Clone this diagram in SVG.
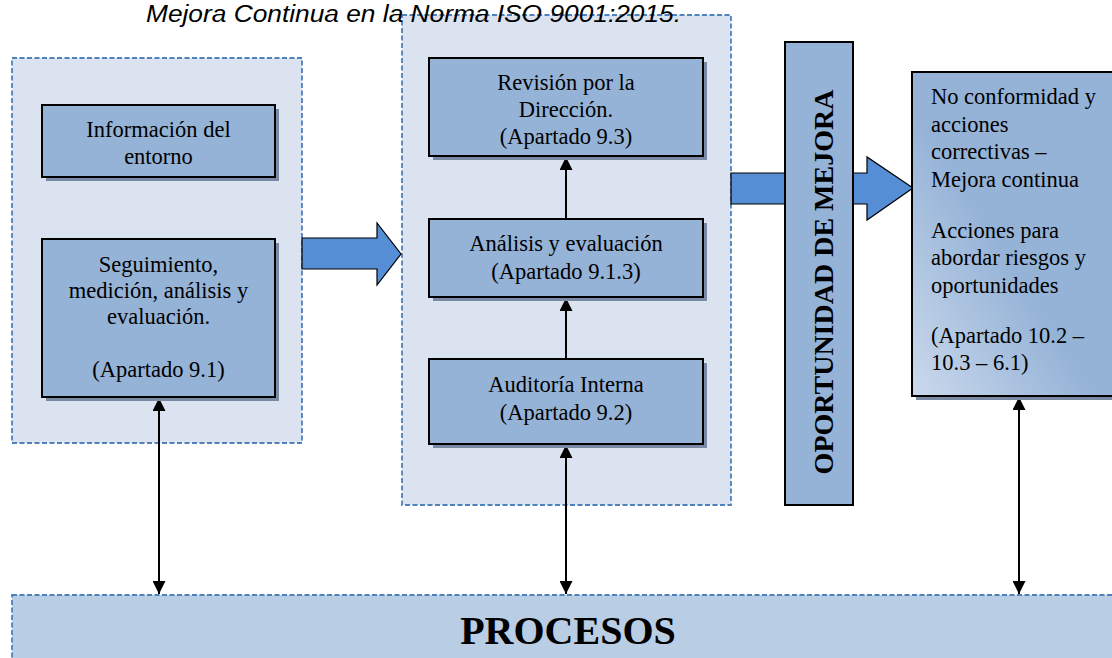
<svg xmlns="http://www.w3.org/2000/svg" width="1112" height="658" viewBox="0 0 1112 658">
  <style>
    .group-area { fill: #dce3f0; stroke: #4f81bd; stroke-width: 1.8; stroke-dasharray: 5 2.5; }
    .box { fill: #95b3d7; stroke: #000; stroke-width: 2; }
    .shadow { fill: #7b8aa4; }
    .label { font-family: "Liberation Serif", "Times New Roman", serif; font-size: 22.5px; fill: #000; }
    .center { text-anchor: middle; }
    .link { stroke: #000; stroke-width: 2; fill: none; }
    .block-arrow { fill: #558ed5; stroke: #000; stroke-width: 1.2; }
  </style>
  <defs>
    <marker id="head" viewBox="0 0 10 10" refX="10" refY="5" markerWidth="6.5" markerHeight="6.5" orient="auto-start-reverse" markerUnits="strokeWidth">
      <path d="M0,0 L10,5 L0,10 z" fill="#000"/>
    </marker>
    <linearGradient id="sideFill" x1="0" y1="1" x2="1" y2="0">
      <stop offset="0" stop-color="#cbd9ec"/>
      <stop offset="0.45" stop-color="#95b3d7"/>
      <stop offset="1" stop-color="#95b3d7"/>
    </linearGradient>
  </defs>

  <rect width="1112" height="658" fill="#fff"/>

  <!-- dashed grouping areas -->
  <g id="area-monitoring">
    <rect class="group-area" x="12" y="58" width="290" height="385"/>
  </g>
  <g id="area-evaluation">
    <rect class="group-area" x="402" y="15" width="329" height="490"/>
  </g>

  <!-- caption line at the top edge, drawn above the areas -->
  <text x="146" y="21.5" font-family="Liberation Sans, Arial, sans-serif" font-size="23" font-style="italic" fill="#000" textLength="535" lengthAdjust="spacingAndGlyphs">Mejora Continua en la Norma ISO 9001:2015.</text>

  <!-- connectors -->
  <g id="connectors">
    <path class="block-arrow" d="M302,238 H377 V223 L401,254 L377,285 V269 H302 Z"/>
    <path class="block-arrow" d="M731,173 H867 V157 L913,188 L867,220 V204 H731 Z"/>
    <line class="link" x1="566" y1="219" x2="566" y2="157" marker-end="url(#head)"/>
    <line class="link" x1="566" y1="359" x2="566" y2="298" marker-end="url(#head)"/>
    <line class="link" x1="159" y1="398" x2="159" y2="594" marker-start="url(#head)" marker-end="url(#head)"/>
    <line class="link" x1="566" y1="445" x2="566" y2="594" marker-start="url(#head)" marker-end="url(#head)"/>
    <line class="link" x1="1019" y1="397" x2="1019" y2="594" marker-start="url(#head)" marker-end="url(#head)"/>
  </g>

  <g id="informacion-entorno">
    <rect class="shadow" x="46" y="109" width="233" height="72"/>
    <rect class="box" x="42" y="105" width="233" height="72"/>
    <text class="label center" x="158.5" y="137">Información del</text>
    <text class="label center" x="158.5" y="164">entorno</text>
  </g>

  <g id="seguimiento">
    <rect class="shadow" x="46" y="243" width="233" height="158"/>
    <rect class="box" x="42" y="239" width="233" height="158"/>
    <text class="label center" x="158.5" y="272">Seguimiento,</text>
    <text class="label center" x="158.5" y="298">medición, análisis y</text>
    <text class="label center" x="158.5" y="324">evaluación.</text>
    <text class="label center" x="158.5" y="377">(Apartado 9.1)</text>
  </g>

  <g id="revision-direccion">
    <rect class="shadow" x="433" y="62" width="274" height="98"/>
    <rect class="box" x="429" y="58" width="274" height="98"/>
    <text class="label center" x="566" y="90">Revisión por la</text>
    <text class="label center" x="566" y="117">Dirección.</text>
    <text class="label center" x="566" y="144">(Apartado 9.3)</text>
  </g>

  <g id="analisis-evaluacion">
    <rect class="shadow" x="433" y="223" width="274" height="78"/>
    <rect class="box" x="429" y="219" width="274" height="78"/>
    <text class="label center" x="566" y="251">Análisis y evaluación</text>
    <text class="label center" x="566" y="279">(Apartado 9.1.3)</text>
  </g>

  <g id="auditoria-interna">
    <rect class="shadow" x="433" y="363" width="274" height="85"/>
    <rect class="box" x="429" y="359" width="274" height="85"/>
    <text class="label center" x="566" y="392">Auditoría Interna</text>
    <text class="label center" x="566" y="420">(Apartado 9.2)</text>
  </g>

  <g id="oportunidad-mejora">
    <rect class="box" x="785" y="42" width="68" height="463" stroke-width="1.6"/>
    <text transform="translate(833,282) rotate(-90)" text-anchor="middle" font-family="Liberation Serif, Times New Roman, serif" font-size="28" font-weight="bold" fill="#000">OPORTUNIDAD DE MEJORA</text>
  </g>

  <g id="no-conformidad">
    <rect class="shadow" x="916" y="76" width="200" height="324"/>
    <rect x="912" y="72" width="204" height="324" fill="url(#sideFill)" stroke="#000" stroke-width="2"/>
    <g class="label">
      <text x="931" y="104">No conformidad y</text>
      <text x="931" y="132">acciones</text>
      <text x="931" y="159">correctivas –</text>
      <text x="931" y="187">Mejora continua</text>
      <text x="931" y="238">Acciones para</text>
      <text x="931" y="265">abordar riesgos y</text>
      <text x="931" y="293">oportunidades</text>
      <text x="931" y="343">(Apartado 10.2 –</text>
      <text x="931" y="370">10.3 – 6.1)</text>
    </g>
  </g>

  <g id="procesos">
    <rect x="12" y="595" width="1110" height="80" fill="#b9cde5" stroke="#4f81bd" stroke-width="1.8" stroke-dasharray="5 2.5"/>
    <text x="568" y="644" text-anchor="middle" font-family="Liberation Serif, Times New Roman, serif" font-size="40" font-weight="bold" fill="#000">PROCESOS</text>
  </g>
</svg>
